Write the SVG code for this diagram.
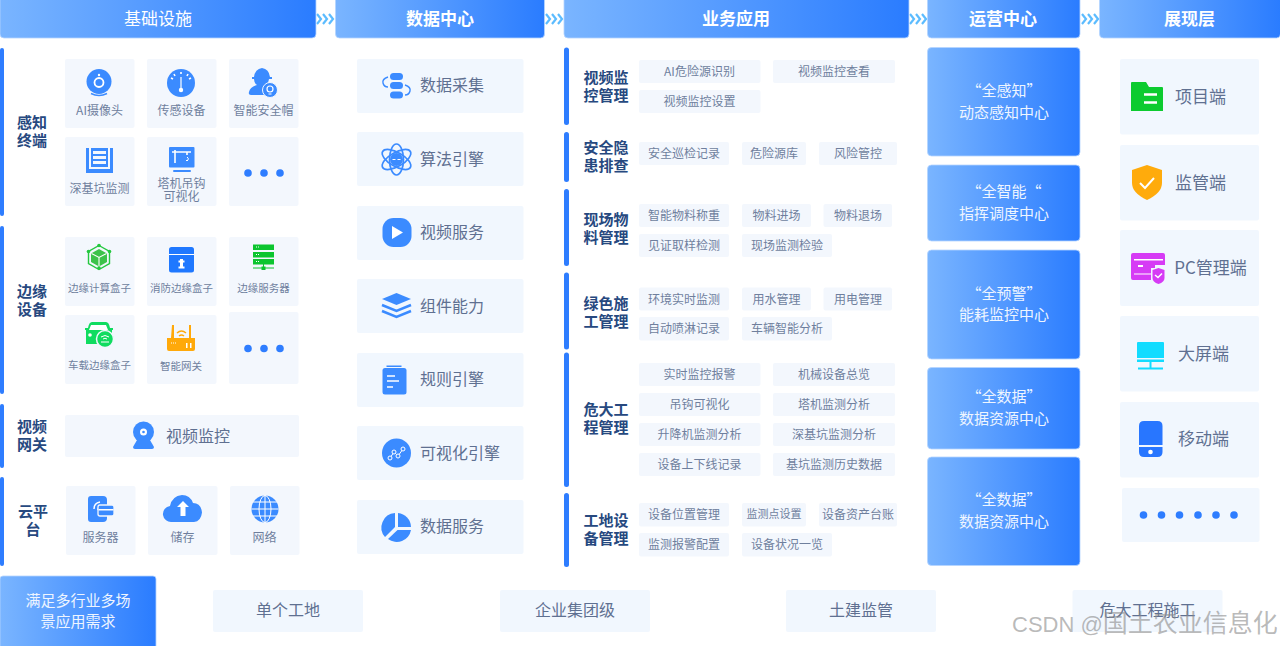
<svg xmlns="http://www.w3.org/2000/svg" width="1280" height="646" viewBox="0 0 1280 646">
<style>
text{font-family:"Noto Sans CJK SC","Noto Sans",sans-serif;text-anchor:middle}
.hd{fill:url(#g);stroke:#b5d4ff;stroke-width:.8}
.ht{fill:#fff;font-size:17px}
.hb{fill:#fff;font-size:17px;font-weight:700}
.bar{fill:#2e7dff}
.tl{fill:#f1f7fe}
.ch{fill:#f3f7fd}
.lb{fill:#6f7f9d;font-size:12px}
.ls{fill:#6f7f9d;font-size:10.500px}
.cl{fill:#6f7f9d;font-size:12px}
.dt{fill:#5f7091;font-size:16px}
.sh{fill:#5f7091;font-size:17px}
.tt{fill:#27497f;font-size:15px;font-weight:700}
.wt{fill:#eef5ff;font-size:15px}
.i{fill:#3b8bff}
.w{fill:#fff}
.ws{fill:none;stroke:#fff;stroke-width:1.6}
.d{fill:#2e7dff}
.ar{fill:none;stroke:#5cbcff;stroke-width:2.2}
.wm{fill:#8b8b8b;fill-opacity:.6;font-size:22px;font-family:"Liberation Sans","Noto Sans CJK SC",sans-serif;text-anchor:start}
</style>
<defs>
<linearGradient id="g" x1="0" y1="0" x2="1" y2="0"><stop offset="0" stop-color="#7ab5ff"/><stop offset="1" stop-color="#2a7cff"/></linearGradient>
</defs>
<rect width="1280" height="646" fill="#fff"/>

<g id="connectors">
<path class="ar" d="M317 14l4 5-4 5M323 14l4 5-4 5M329 14l4 5-4 5"/>
<path class="ar" d="M546 14l4 5-4 5M552 14l4 5-4 5M558 14l4 5-4 5"/>
<path class="ar" d="M910 14l4 5-4 5M916 14l4 5-4 5M922 14l4 5-4 5"/>
<path class="ar" d="M1082 14l4 5-4 5M1088 14l4 5-4 5M1094 14l4 5-4 5"/>
</g>

<g id="headers">
<g id="h1"><rect class="hd" x="0" y="-4" width="316" height="42" rx="4"/><text class="ht" x="158" y="25">基础设施</text></g>
<g id="h2"><rect class="hd" x="335.500" y="-4" width="209" height="42" rx="4"/><text class="hb" x="440" y="25">数据中心</text></g>
<g id="h3"><rect class="hd" x="564" y="-4" width="345" height="42" rx="4"/><text class="hb" x="736" y="25">业务应用</text></g>
<g id="h4"><rect class="hd" x="927.500" y="-4" width="152.500" height="42" rx="4"/><text class="hb" x="1003" y="25">运营中心</text></g>
<g id="h5"><rect class="hd" x="1099.500" y="-4" width="181" height="42" rx="4"/><text class="hb" x="1189.500" y="25">展现层</text></g>
</g>

<g id="cat-perception">
<rect class="bar" x="0" y="48" width="4" height="168" rx="2"/>
<text class="tt" x="32" y="128">感知</text><text class="tt" x="32" y="146">终端</text>
</g>
<g id="ai-camera"><rect class="ch" x="65" y="59" width="69.500" height="69" rx="2"/>
<circle class="i" cx="99" cy="81.500" r="12.500"/><circle cx="99" cy="82.500" r="4.500" fill="none" stroke="#fff" stroke-width="1.800"/><circle class="w" cx="99" cy="75" r="1.200"/><path d="M91 93.500q8 4 16 0" fill="none" stroke="#3b8bff" stroke-width="1.500"/>
<text class="lb" x="99.500" y="114.500">AI摄像头</text></g>
<g id="sensor"><rect class="ch" x="147" y="59" width="69.500" height="69" rx="2"/>
<circle class="i" cx="181" cy="83" r="14"/><path class="ws" d="M174 74l1 2M181 72v2M188 74l-1 2M171 78l2 1M191 78l-2 1" stroke-width="1.200"/><path d="M181 77v12" stroke="#fff" stroke-width="1.200"/><circle class="w" cx="181" cy="90" r="2.200"/>
<text class="lb" x="181.500" y="114.500">传感设备</text></g>
<g id="helmet"><rect class="ch" x="229" y="59" width="69.500" height="69" rx="2"/>
<path class="i" d="M254 77q1-8 8-9q7 1 8 9h2v2h-3q-1 5-3 6q5 1 8 3q-5 2-6 7h-17q-3 0-2-3q1-5 8-7q-3-2-3-6h-2v-2z"/><circle class="i" cx="270" cy="90" r="7.500" stroke="#f3f7fd"/><circle cx="270" cy="89" r="3" fill="none" stroke="#fff" stroke-width="1.200"/><path d="M268.500 94h3" stroke="#fff"/>
<text class="lb" x="263.500" y="114.500">智能安全帽</text></g>
<g id="pit"><rect class="ch" x="65" y="137" width="69.500" height="69" rx="2"/>
<path class="i" d="M86 148h3v21h21v-21h3v25h-27z"/><path class="i" d="M91 148h17v19h-17zM93 151v3h13v-3zM93 156v3h13v-3zM93 161v3h13v-3z" fill-rule="evenodd"/>
<text class="lb" x="99.500" y="192.500">深基坑监测</text></g>
<g id="crane"><rect class="ch" x="147" y="137" width="69.500" height="69" rx="2"/>
<rect class="i" x="169" y="147" width="25.500" height="20.500" rx="1"/><rect class="i" x="173" y="170" width="18" height="2" rx="1"/><path class="ws" d="M172 152h19M175 150v13M187 152v3" stroke-width="1.400"/><path d="M187 157q2 1 1 3t-2 0" fill="none" stroke="#fff"/>
<text class="lb" x="181.500" y="187.500">塔机吊钩</text><text class="lb" x="181.500" y="201">可视化</text></g>
<g id="more-1"><rect class="ch" x="229" y="137" width="69.500" height="69" rx="2"/>
<circle class="d" cx="248" cy="173" r="3.800"/><circle class="d" cx="264" cy="173" r="3.800"/><circle class="d" cx="280" cy="173" r="3.800"/></g>

<g id="cat-edge">
<rect class="bar" x="0" y="226" width="4" height="168" rx="2"/>
<text class="tt" x="32" y="297">边缘</text><text class="tt" x="32" y="315">设备</text>
</g>
<g id="edge-compute"><rect class="ch" x="65" y="237" width="69.500" height="69" rx="2"/>
<path d="M99 245.500l10.500 6v12l-10.500 6-10.500-6v-12z" fill="none" stroke="#24c83f" stroke-width="1.400"/><path d="M99 249l8 4.500v8.500l-8 4.500-8-4.500v-8.500z" fill="#3cc24a"/><path d="M91.500 253.500l7.500 4 7.500-4M99 257.500v8.500" fill="none" stroke="#fff" stroke-width="1.100"/><circle cx="99" cy="245.500" r="1.800" fill="#24c83f"/><circle cx="88.500" cy="251.500" r="1.800" fill="#24c83f"/><circle cx="109.500" cy="251.500" r="1.800" fill="#24c83f"/><circle cx="99" cy="268" r="1.800" fill="#24c83f"/>
<text class="ls" x="99.500" y="291.500">边缘计算盒子</text></g>
<g id="fire-box"><rect class="ch" x="147" y="237" width="69.500" height="69" rx="2"/>
<rect x="169" y="247" width="25" height="25.500" rx="2.500" fill="#1f78ff"/><rect class="w" x="169" y="254" width="25" height="1"/><path class="w" d="M180 259h3v1.500h1.500v2h-1.500v4h1.500v2h-6v-2h1.500v-4h-1.500v-2h1.500z"/>
<text class="ls" x="181.500" y="291.500">消防边缘盒子</text></g>
<g id="edge-server"><rect class="ch" x="229" y="237" width="69.500" height="69" rx="2"/>
<rect x="253" y="244.500" width="21" height="5.500" fill="#0cc52f"/><rect x="253" y="252" width="21" height="5.500" fill="#0cc52f"/><rect x="253" y="259" width="21" height="5.500" fill="#0cc52f"/><path d="M263.500 264v4M253 268h21" stroke="#0cc52f"/><rect x="261.500" y="266.500" width="4" height="3.500" fill="#0cc52f"/><path d="M256 247h4M256 254.500h4M256 261.500h4" stroke="#fff" stroke-dasharray="1 1"/>
<text class="ls" x="263.500" y="291.500">边缘服务器</text></g>
<g id="car-box"><rect class="ch" x="65" y="315" width="69.500" height="69" rx="2"/>
<path d="M92 322h14q3 0 4 6h3v2h-1v14h-26v-14h-1v-2h3q1-6 4-6z" fill="#10dc60"/><path class="w" d="M91 325h15l2 5h-19z"/><circle class="w" cx="90" cy="335" r="1.800"/><circle cx="105" cy="339" r="8.500" fill="#10dc60" stroke="#f1f7fe" stroke-width="1.500"/><path d="M101 337q4-3 8 0M103 339q2-1.500 4 0M101 342h8" fill="none" stroke="#fff"/>
<text class="ls" x="99.500" y="369">车载边缘盒子</text></g>
<g id="gateway"><rect class="ch" x="147" y="315" width="69.500" height="69" rx="2"/>
<path d="M172 325h2v13h15v-13h2v13h4v11q0 2-2 2h-24q-2 0-2-2v-11h4z" fill="#ffa90a"/><path d="M177 333q4.500-4 9 0M179 336q2.500-2 5 0" fill="none" stroke="#ffa90a" stroke-width="1.500"/><path class="w" d="M186 343h1.500v5h-1.500zM190 343h1.500v5h-1.500z"/><path d="M171 343h6" stroke="#fff" stroke-dasharray="1 1"/>
<text class="ls" x="181" y="370">智能网关</text></g>
<g id="more-2"><rect class="ch" x="229" y="312" width="69.500" height="72" rx="2"/>
<circle class="d" cx="248" cy="348.500" r="3.800"/><circle class="d" cx="264" cy="348.500" r="3.800"/><circle class="d" cx="280" cy="348.500" r="3.800"/></g>

<g id="cat-video">
<rect class="bar" x="0" y="404" width="4" height="64" rx="2"/>
<text class="tt" x="32" y="432">视频</text><text class="tt" x="32" y="450">网关</text>
</g>
<g id="video-monitor"><rect class="ch" x="65" y="415" width="234" height="42" rx="2"/>
<circle class="i" cx="143.500" cy="432" r="10.500"/><circle class="w" cx="143.500" cy="432" r="3.500"/><circle class="i" cx="143.500" cy="432" r="1.300"/><path class="i" d="M137 440h13l4 7q0 2-2 2h-17q-2 0-2-2z"/>
<text class="dt" x="198" y="441.500">视频监控</text></g>

<g id="cat-cloud">
<rect class="bar" x="0" y="477" width="4" height="89" rx="2"/>
<text class="tt" x="33" y="517">云平</text><text class="tt" x="33" y="535">台</text>
</g>
<g id="server"><rect class="ch" x="66" y="486" width="69.500" height="69" rx="2"/>
<path class="i" d="M91 496h12q4 0 4 4v18q0 4-4 4h-12q-3 0-3-3v-20q0-3 3-3z"/><path d="M100 502q-6 1-6 7M101 506q-3 1-3 4" fill="none" stroke="#fff" stroke-width="1.500"/><rect x="98" y="505" width="16" height="11" rx="2" fill="#3b8bff" stroke="#f3f7fd" stroke-width="1.300"/><rect x="98.500" y="509" width="15" height="1.500" fill="#fff"/>
<text class="lb" x="100.500" y="542">服务器</text></g>
<g id="storage"><rect class="ch" x="148" y="486" width="69.500" height="69" rx="2"/>
<path class="i" d="M172 522a8 8 0 0 1-2-16q2-10 12-11q8 0 11 8q8 0 9 9.500q-1 9-8 9.500z"/><path class="w" d="M183 501l6 6h-3.500v9h-5v-9h-3.500z"/>
<text class="lb" x="182.500" y="542">储存</text></g>
<g id="network"><rect class="ch" x="230" y="486" width="69.500" height="69" rx="2"/>
<circle class="i" cx="265" cy="509" r="13.500"/><ellipse cx="265" cy="509" rx="6" ry="13.500" fill="none" stroke="#fff" stroke-width="1"/><path d="M265 495v28M251.500 509h27M253 502h24M253 516h24" stroke="#fff"/>
<text class="lb" x="264.500" y="542">网络</text></g>

<g id="data-collect"><rect class="tl" x="357" y="59" width="166.500" height="54" rx="2"/>
<rect class="i" x="390" y="73" width="13" height="7" rx="3.500"/><rect class="i" x="390" y="82" width="13" height="7" rx="3.500"/><rect class="i" x="390" y="91.500" width="13" height="7" rx="3.500"/><path d="M388 77q-6 2-5 6t5 4M405 85q6 2 5 6t-5 4" fill="none" stroke="#3b8bff" stroke-width="1.400"/>
<text class="dt" x="452" y="91">数据采集</text></g>
<g id="algo"><rect class="tl" x="357" y="132" width="166.500" height="54" rx="2"/>
<g fill="none" stroke="#3b8bff" stroke-width="1.700"><ellipse cx="396.500" cy="159.500" rx="16" ry="7" transform="rotate(30 396.500 159.500)"/><ellipse cx="396.500" cy="159.500" rx="16" ry="7" transform="rotate(-30 396.500 159.500)"/><ellipse cx="396.500" cy="159.500" rx="7" ry="15.500"/></g><circle class="i" cx="396.500" cy="159.500" r="6.500"/><path d="M392.500 159.500h3M397.500 159.500h3" stroke="#fff"/>
<text class="dt" x="452" y="165">算法引擎</text></g>
<g id="video-service"><rect class="tl" x="357" y="206" width="166.500" height="54" rx="2"/>
<rect class="i" x="382.500" y="218" width="29" height="29" rx="11"/><path class="w" d="M392 226l11 6.500-11 6.500z"/>
<text class="dt" x="452" y="238">视频服务</text></g>
<g id="component"><rect class="tl" x="357" y="279" width="166.500" height="54" rx="2"/>
<path class="i" d="M396.500 293l14.500 6-14.500 6-14.500-6z"/><path d="M382 305l14.500 6 14.500-6M382 311l14.500 6 14.500-6" fill="none" stroke="#3b8bff" stroke-width="2.500"/>
<text class="dt" x="452" y="312">组件能力</text></g>
<g id="rules"><rect class="tl" x="357" y="353" width="166.500" height="54" rx="2"/>
<rect class="i" x="382.500" y="368" width="24" height="26.500" rx="2.500"/><rect class="i" x="386.500" y="365.500" width="15" height="1.500"/><path d="M387 376h8M387 381h12M387 387h6" stroke="#fff" stroke-width="1.500"/>
<text class="dt" x="452" y="385">规则引擎</text></g>
<g id="visual"><rect class="tl" x="357" y="426" width="166.500" height="54" rx="2"/>
<circle class="i" cx="396.500" cy="453" r="14.500"/><path d="M390 458l4-6 4 4 5-7" fill="none" stroke="#fff"/><circle class="i" cx="390" cy="458" r="2" stroke="#fff"/><circle class="i" cx="394" cy="452" r="2" stroke="#fff"/><circle class="i" cx="398" cy="456" r="2" stroke="#fff"/><circle class="i" cx="403" cy="449" r="2" stroke="#fff"/>
<text class="dt" x="460" y="459">可视化引擎</text></g>
<g id="data-service"><rect class="tl" x="357" y="500" width="166.500" height="54" rx="2"/>
<path class="i" d="M395 513v14l-10 10a14.500 14.500 0 0 1 10-24z"/><path class="i" d="M398 513a14.500 14.500 0 0 1 13 14h-13z"/><path class="i" d="M397.500 530h13.500a14.500 14.500 0 0 1-23 9z"/>
<text class="dt" x="452" y="532">数据服务</text></g>

<g id="biz-bars">
<rect class="bar" x="564" y="47.500" width="5" height="77.500" rx="2.500"/>
<rect class="bar" x="564" y="132" width="5" height="50" rx="2.500"/>
<rect class="bar" x="564" y="189" width="5" height="77" rx="2.500"/>
<rect class="bar" x="564" y="272.500" width="5" height="77" rx="2.500"/>
<rect class="bar" x="564" y="352.500" width="5" height="134.500" rx="2.500"/>
<rect class="bar" x="564" y="493" width="5" height="74" rx="2.500"/>
</g>
<g id="biz-titles">
<text class="tt" x="606" y="82.500">视频监</text><text class="tt" x="606" y="100.500">控管理</text>
<text class="tt" x="606" y="152.500">安全隐</text><text class="tt" x="606" y="170.500">患排查</text>
<text class="tt" x="606" y="225">现场物</text><text class="tt" x="606" y="243">料管理</text>
<text class="tt" x="606" y="309">绿色施</text><text class="tt" x="606" y="327">工管理</text>
<text class="tt" x="606" y="415">危大工</text><text class="tt" x="606" y="433">程管理</text>
<text class="tt" x="606" y="526">工地设</text><text class="tt" x="606" y="544">备管理</text>
</g>
<g id="biz-video">
<g><rect class="ch" x="639" y="60" width="121.500" height="23" rx="2"/><text class="cl" x="699.500" y="75.500">AI危险源识别</text></g>
<g><rect class="ch" x="773" y="60" width="122" height="23" rx="2"/><text class="cl" x="834" y="75.500">视频监控查看</text></g>
<g><rect class="ch" x="639" y="90" width="121.500" height="23" rx="2"/><text class="cl" x="699.500" y="105.500">视频监控设置</text></g>
</g>
<g id="biz-safety">
<g><rect class="ch" x="639" y="142" width="90" height="23" rx="2"/><text class="cl" x="684" y="158">安全巡检记录</text></g>
<g><rect class="ch" x="742" y="142" width="64" height="23" rx="2"/><text class="cl" x="774" y="158">危险源库</text></g>
<g><rect class="ch" x="819" y="142" width="78" height="23" rx="2"/><text class="cl" x="858" y="158">风险管控</text></g>
</g>
<g id="biz-material">
<g><rect class="ch" x="639" y="204" width="90" height="23" rx="2"/><text class="cl" x="684" y="219.500">智能物料称重</text></g>
<g><rect class="ch" x="742" y="204" width="69" height="23" rx="2"/><text class="cl" x="776.500" y="219.500">物料进场</text></g>
<g><rect class="ch" x="823.500" y="204" width="68.500" height="23" rx="2"/><text class="cl" x="858" y="219.500">物料退场</text></g>
<g><rect class="ch" x="639" y="234" width="90" height="23" rx="2"/><text class="cl" x="684" y="249.500">见证取样检测</text></g>
<g><rect class="ch" x="742" y="234" width="90" height="23" rx="2"/><text class="cl" x="787" y="249.500">现场监测检验</text></g>
</g>
<g id="biz-green">
<g><rect class="ch" x="639" y="287.500" width="90" height="23" rx="2"/><text class="cl" x="684" y="303.500">环境实时监测</text></g>
<g><rect class="ch" x="742" y="287.500" width="69" height="23" rx="2"/><text class="cl" x="776.500" y="303.500">用水管理</text></g>
<g><rect class="ch" x="823.500" y="287.500" width="68.500" height="23" rx="2"/><text class="cl" x="858" y="303.500">用电管理</text></g>
<g><rect class="ch" x="639" y="317" width="90" height="23.500" rx="2"/><text class="cl" x="684" y="333">自动喷淋记录</text></g>
<g><rect class="ch" x="742" y="317" width="90" height="23.500" rx="2"/><text class="cl" x="787" y="333">车辆智能分析</text></g>
</g>
<g id="biz-hazard">
<g><rect class="ch" x="639" y="363" width="121.500" height="23" rx="2"/><text class="cl" x="699.500" y="378.500">实时监控报警</text></g>
<g><rect class="ch" x="773" y="363" width="122" height="23" rx="2"/><text class="cl" x="834" y="378.500">机械设备总览</text></g>
<g><rect class="ch" x="639" y="393" width="121.500" height="23" rx="2"/><text class="cl" x="699.500" y="408.500">吊钩可视化</text></g>
<g><rect class="ch" x="773" y="393" width="122" height="23" rx="2"/><text class="cl" x="834" y="408.500">塔机监测分析</text></g>
<g><rect class="ch" x="639" y="423" width="121.500" height="23" rx="2"/><text class="cl" x="699.500" y="438.500">升降机监测分析</text></g>
<g><rect class="ch" x="773" y="423" width="122" height="23" rx="2"/><text class="cl" x="834" y="438.500">深基坑监测分析</text></g>
<g><rect class="ch" x="639" y="453" width="121.500" height="23" rx="2"/><text class="cl" x="699.500" y="468.500">设备上下线记录</text></g>
<g><rect class="ch" x="773" y="453" width="122" height="23" rx="2"/><text class="cl" x="834" y="468.500">基坑监测历史数据</text></g>
</g>
<g id="biz-device">
<g><rect class="ch" x="639" y="503" width="90" height="23.500" rx="2"/><text class="cl" x="684" y="519">设备位置管理</text></g>
<g><rect class="ch" x="742" y="503" width="64" height="23.500" rx="2"/><text class="cl" x="774" y="518" style="font-size:11px">监测点设置</text></g>
<g><rect class="ch" x="819" y="503" width="78" height="23.500" rx="2"/><text class="cl" x="858" y="519">设备资产台账</text></g>
<g><rect class="ch" x="639" y="533" width="90" height="23.500" rx="2"/><text class="cl" x="684" y="549">监测报警配置</text></g>
<g><rect class="ch" x="742" y="533" width="90" height="23.500" rx="2"/><text class="cl" x="787" y="549">设备状况一览</text></g>
</g>

<g id="ops-1"><rect class="hd" x="927.500" y="47.500" width="152.500" height="108.500" rx="4"/><text class="wt" x="1004" y="96">“全感知”</text><text class="wt" x="1004" y="118">动态感知中心</text></g>
<g id="ops-2"><rect class="hd" x="927.500" y="165" width="152.500" height="76" rx="4"/><text class="wt" x="1004" y="197">“全智能“</text><text class="wt" x="1004" y="219">指挥调度中心</text></g>
<g id="ops-3"><rect class="hd" x="927.500" y="250" width="152.500" height="109" rx="4"/><text class="wt" x="1004" y="299">“全预警”</text><text class="wt" x="1004" y="320">能耗监控中心</text></g>
<g id="ops-4"><rect class="hd" x="927.500" y="367.500" width="152.500" height="81.500" rx="4"/><text class="wt" x="1004" y="402">“全数据”</text><text class="wt" x="1004" y="424">数据资源中心</text></g>
<g id="ops-5"><rect class="hd" x="927.500" y="457" width="152.500" height="108.500" rx="4"/><text class="wt" x="1004" y="505">“全数据”</text><text class="wt" x="1004" y="527">数据资源中心</text></g>

<g id="show-project"><rect class="tl" x="1120" y="59" width="139" height="75.500" rx="2"/>
<path d="M1131 83q0-1 1-1h14l3 5h13q1 0 1 1v23h-32z" fill="#0ccb2f"/><path d="M1144 94.500h13M1144 102.500h13" stroke="#fff" stroke-width="2.500"/>
<text class="sh" x="1200.500" y="103">项目端</text></g>
<g id="show-supervise"><rect class="tl" x="1120" y="145" width="139" height="75.500" rx="2"/>
<path d="M1147 165l15 5v13q0 10-15 17q-15-7-15-17v-13z" fill="#ffab0c"/><path d="M1140 183l5 5 9-10" fill="none" stroke="#fff" stroke-width="2"/>
<text class="sh" x="1200.500" y="189">监管端</text></g>
<g id="show-pc"><rect class="tl" x="1120" y="230" width="139" height="76" rx="2"/>
<path d="M1133 253h30q2 0 2 2v10h-10v3h-4v12h-18q-2 0-2-2v-23q0-2 2-2z" fill="#d63bf5"/><rect class="w" x="1134" y="259" width="29" height="1.500"/><path d="M1138 266h5" stroke="#fff" stroke-width="2"/><path d="M1134 274h17" stroke="#fff"/><path d="M1158.500 268l6 2v8q0 4-6 6q-6-2-6-6v-8z" fill="#d63bf5"/><path d="M1155 275l3 2.500 4-4" fill="none" stroke="#fff" stroke-width="1.500"/>
<text class="sh" x="1210.500" y="273.500">PC管理端</text></g>
<g id="show-screen"><rect class="tl" x="1120" y="316" width="139" height="75.500" rx="2"/>
<path d="M1137 343q0-1 1-1h25q1 0 1 1v15h-27z" fill="#12dcff"/><rect x="1137" y="359.500" width="27" height="2.500" fill="#12dcff"/><rect x="1149.500" y="362" width="2" height="6" fill="#12dcff"/><rect x="1138" y="367.500" width="25" height="2" fill="#12dcff"/>
<text class="sh" x="1203.500" y="360">大屏端</text></g>
<g id="show-mobile"><rect class="tl" x="1120" y="402" width="139" height="75.500" rx="2"/>
<path d="M1144 421h13.500q5 0 5 5v19h-23.500v-19q0-5 5-5zM1139 447h23.500v5q0 5-5 5h-13.500q-5 0-5-5z" fill="#2876ff"/><circle class="w" cx="1150.500" cy="452" r="2.300"/>
<text class="sh" x="1203.500" y="445">移动端</text></g>
<g id="show-more"><rect class="tl" x="1122" y="488" width="137.500" height="54" rx="2"/>
<circle class="d" cx="1143.500" cy="515" r="3.800"/><circle class="d" cx="1161.500" cy="515" r="3.800"/><circle class="d" cx="1179.500" cy="515" r="3.800"/><circle class="d" cx="1198" cy="515" r="3.800"/><circle class="d" cx="1216" cy="515" r="3.800"/><circle class="d" cx="1234" cy="515" r="3.800"/></g>

<g id="need"><rect class="hd" x="0" y="576" width="156" height="74" rx="3"/><text class="wt" x="78" y="606">满足多行业多场</text><text class="wt" x="78" y="627">景应用需求</text></g>
<g id="s1"><rect class="tl" x="213" y="590" width="150" height="42" rx="2"/><text class="dt" x="288" y="616">单个工地</text></g>
<g id="s2"><rect class="tl" x="500" y="590" width="150" height="42" rx="2"/><text class="dt" x="575" y="616">企业集团级</text></g>
<g id="s3"><rect class="tl" x="786" y="590" width="150" height="42" rx="2"/><text class="dt" x="861" y="616">土建监管</text></g>
<g id="s4"><rect class="tl" x="1072.500" y="590" width="150" height="42" rx="2"/><text class="dt" x="1147.500" y="616">危大工程施工</text></g>
<text class="wm" x="1012" y="632">CSDN @<tspan font-size="25">国土农业信息化</tspan></text>
</svg>
